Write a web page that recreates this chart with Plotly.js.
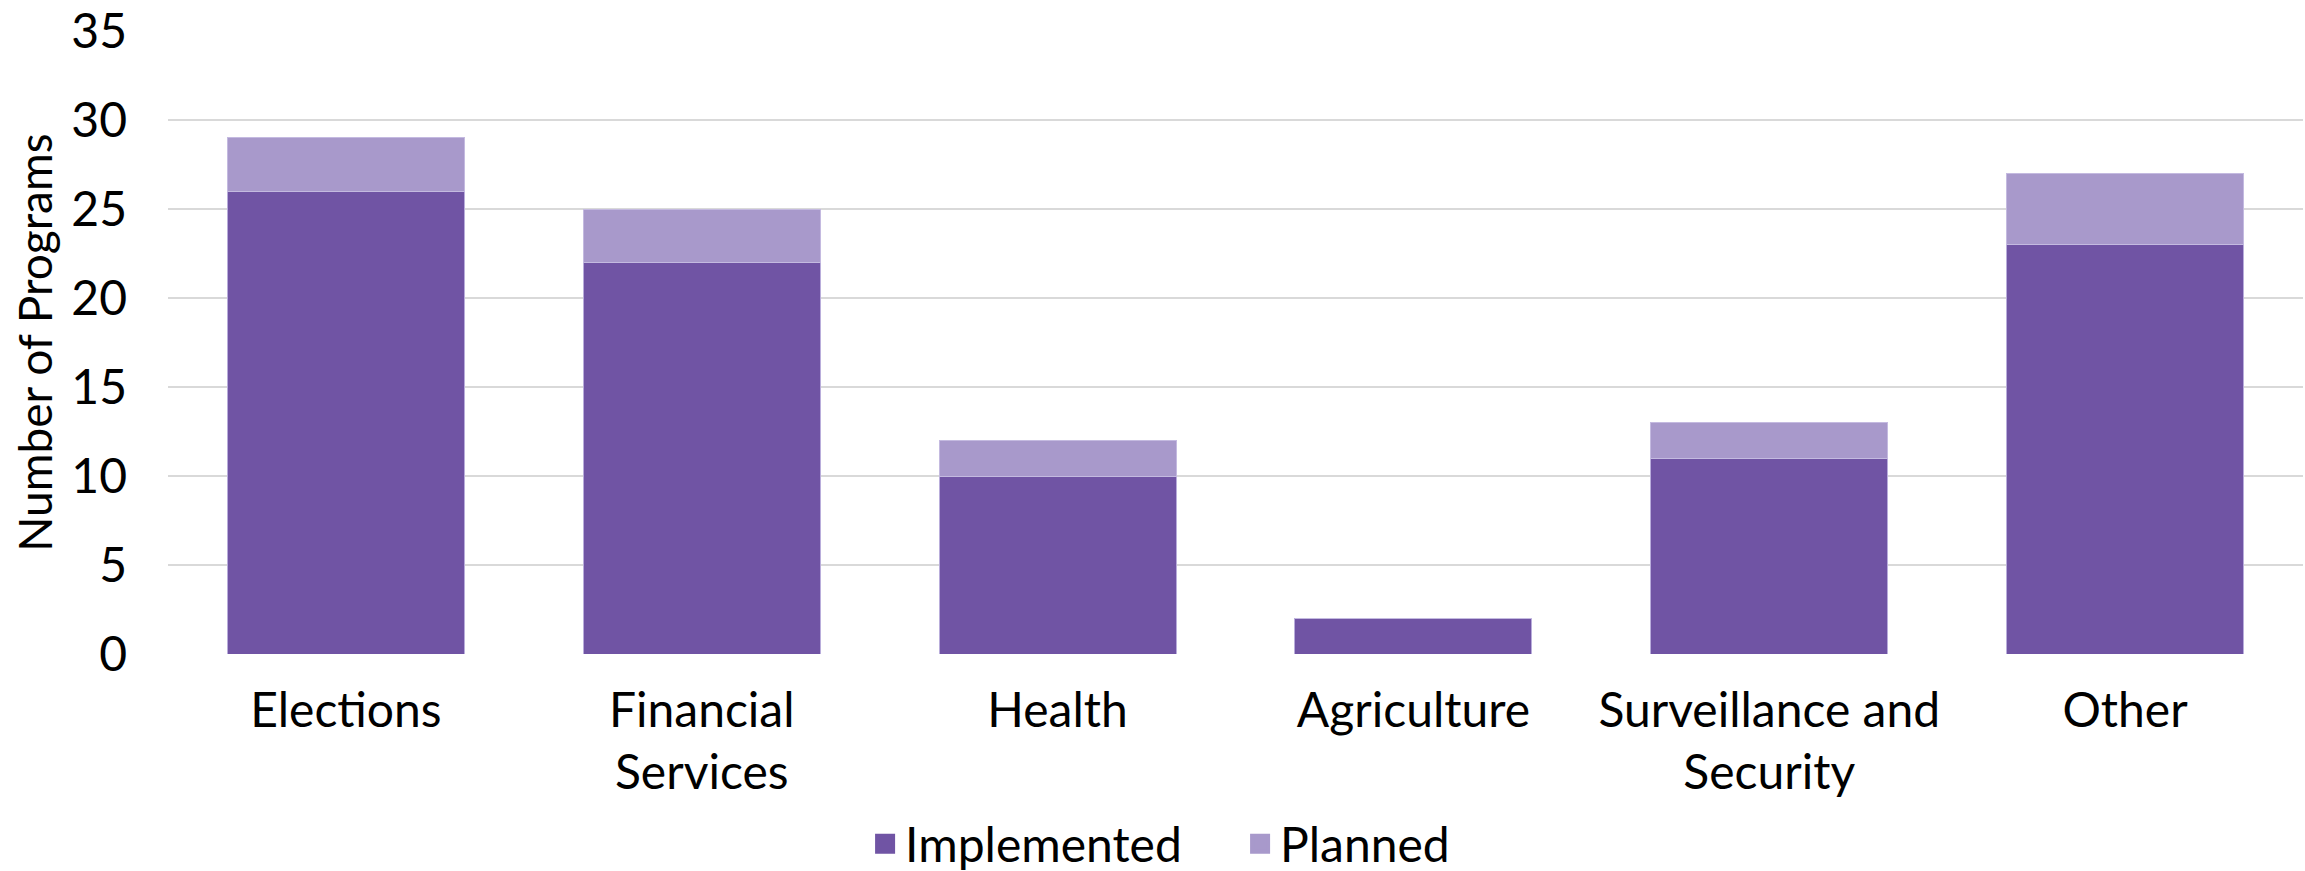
<!DOCTYPE html>
<html>
<head>
<meta charset="utf-8">
<script src="https://cdn.plot.ly/plotly-3.0.1.min.js"></script>
<style>
  html, body { margin: 0; padding: 0; background: #ffffff; }
  #chart { width: 2305px; height: 871px; }
</style>
</head>
<body>
<div id="chart"></div>
<script>
// Programs by sector, split into implemented and planned
const categories = ["Elections", "Financial Services", "Health", "Agriculture", "Surveillance and Security", "Other"];
const categoryLabels = ["Elections", "Financial<br>Services", "Health", "Agriculture", "Surveillance and<br>Security", "Other"];
const implemented = [26, 22, 10, 2, 11, 23];
const planned = [3, 3, 2, 0, 2, 4];
const seriesNames = ["Implemented", "Planned"];
const yTicks = [0, 5, 10, 15, 20, 25, 30, 35];

const FONT = "Lato, 'Open Sans', sans-serif";
const COLORS = ["#7054a4", "#a899cb"];
const EDGES = ["#b9addb", "#c4bae0"];

const series = [implemented, planned];

// stacked bars (legend handled by the swatch traces below)
const bars = series.map((vals, i) => ({
  type: "bar",
  name: seriesNames[i],
  x: categories,
  y: vals,
  marker: { color: COLORS[i], line: { color: EDGES[i], width: 1 } },
  showlegend: false,
  hoverinfo: "skip"
}));

// larger square legend swatches
const swatches = seriesNames.map((name, i) => ({
  type: "scatter",
  mode: "markers",
  name: name,
  x: [null],
  y: [null],
  marker: { symbol: "square", size: 16, color: COLORS[i], line: { color: COLORS[i], width: 4 } },
  showlegend: true,
  hoverinfo: "skip"
}));

const layout = {
  width: 2305,
  height: 871,
  margin: { l: 168, r: 2, t: 31, b: 217 },
  paper_bgcolor: "#ffffff",
  plot_bgcolor: "#ffffff",
  barmode: "stack",
  bargap: 0.334,
  font: { family: FONT, size: 48, color: "#000000" },
  xaxis: {
    type: "category",
    categoryorder: "array",
    categoryarray: categories,
    tickmode: "array",
    tickvals: categories,
    ticktext: categoryLabels,
    ticks: "",
    showgrid: false,
    zeroline: false,
    showline: false,
    tickfont: { family: FONT, size: 48, color: "#000000" },
    ticklabelstandoff: 24
  },
  yaxis: {
    range: [0, 35],
    tickmode: "array",
    tickvals: yTicks,
    ticktext: yTicks.map(String),
    ticks: "",
    showgrid: true,
    gridcolor: "#d9d9d9",
    gridwidth: 1.5,
    zeroline: false,
    showline: false,
    tickfont: { family: FONT, size: 48, color: "#000000" },
    ticklabelstandoff: 40,
    title: {
      text: "Number of Programs",
      font: { family: FONT, size: 46, color: "#000000" },
      standoff: 4
    }
  },
  showlegend: true,
  legend: {
    orientation: "h",
    xref: "container",
    yref: "container",
    x: 0.538,
    xanchor: "center",
    y: 0.031,
    yanchor: "middle",
    font: { family: FONT, size: 48, color: "#000000" },
    traceorder: "normal",
    itemwidth: 30,
    entrywidth: 330,
    entrywidthmode: "pixels"
  }
};

Plotly.newPlot("chart", bars.concat(swatches), layout, { displayModeBar: false, staticPlot: true });
</script>
</body>
</html>
